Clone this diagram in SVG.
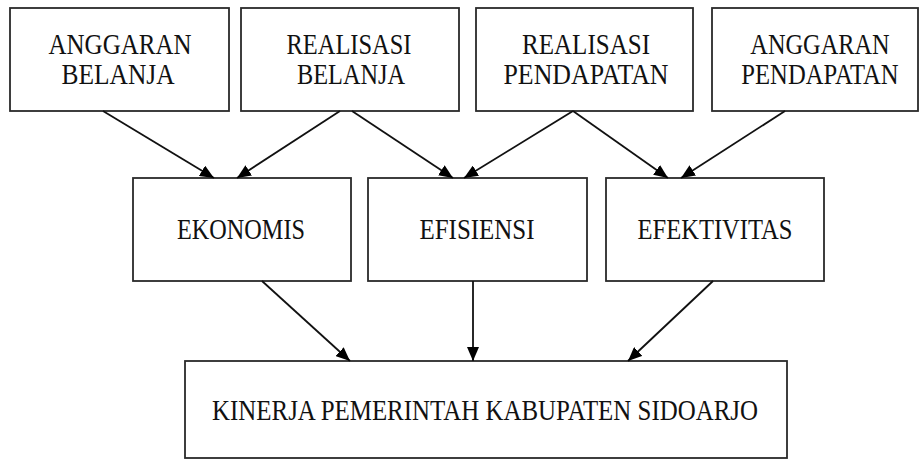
<svg xmlns="http://www.w3.org/2000/svg" width="920" height="459" viewBox="0 0 920 459">
<style>
.box{fill:#fff;stroke:#2a2a2a;stroke-width:1.8}
.t{font-family:"Liberation Serif","Times New Roman",serif;font-size:29px;fill:#111;text-anchor:middle}
.c{stroke:#111;stroke-width:1.8;fill:none}
</style>
<defs>
<marker id="ah" markerUnits="userSpaceOnUse" markerWidth="14" markerHeight="12" viewBox="0 0 14 12" refX="14" refY="6" orient="auto">
<path d="M0,0 L14,6 L0,12 Z" fill="#000"/>
</marker>
</defs>
<rect width="920" height="459" fill="#fff"/>
<g id="anggaran-belanja">
<rect class="box" x="10" y="8" width="219" height="103"/>
<text class="t" x="120" y="54" textLength="143" lengthAdjust="spacingAndGlyphs">ANGGARAN</text>
<text class="t" x="118" y="84" textLength="113" lengthAdjust="spacingAndGlyphs">BELANJA</text>
</g>
<g id="realisasi-belanja">
<rect class="box" x="241" y="8" width="218" height="103"/>
<text class="t" x="349" y="54" textLength="125" lengthAdjust="spacingAndGlyphs">REALISASI</text>
<text class="t" x="351" y="84" textLength="108" lengthAdjust="spacingAndGlyphs">BELANJA</text>
</g>
<g id="realisasi-pendapatan">
<rect class="box" x="476" y="8" width="217" height="103"/>
<text class="t" x="586" y="54" textLength="128" lengthAdjust="spacingAndGlyphs">REALISASI</text>
<text class="t" x="586" y="84" textLength="165" lengthAdjust="spacingAndGlyphs">PENDAPATAN</text>
</g>
<g id="anggaran-pendapatan">
<rect class="box" x="712" y="8" width="206" height="103"/>
<text class="t" transform="translate(820,54) scale(0.84,1)">ANGGARAN</text>
<text class="t" transform="translate(820,84) scale(0.85,1)">PENDAPATAN</text>
</g>
<g id="ekonomis">
<rect class="box" x="133" y="178" width="218" height="103"/>
<text class="t" x="241" y="239" textLength="128" lengthAdjust="spacingAndGlyphs">EKONOMIS</text>
</g>
<g id="efisiensi">
<rect class="box" x="368" y="178" width="219" height="103"/>
<text class="t" x="477" y="239" textLength="115" lengthAdjust="spacingAndGlyphs">EFISIENSI</text>
</g>
<g id="efektivitas">
<rect class="box" x="606" y="178" width="218" height="103"/>
<text class="t" x="715" y="239" textLength="155" lengthAdjust="spacingAndGlyphs">EFEKTIVITAS</text>
</g>
<g id="kinerja">
<rect class="box" x="185" y="361" width="602" height="97"/>
<text class="t" x="485" y="420" textLength="546" lengthAdjust="spacingAndGlyphs">KINERJA PEMERINTAH KABUPATEN SIDOARJO</text>
</g>
<g id="connectors">
<line class="c" x1="103" y1="111" x2="214" y2="178" marker-end="url(#ah)"/>
<line class="c" x1="340" y1="111" x2="237" y2="178" marker-end="url(#ah)"/>
<line class="c" x1="352" y1="111" x2="453" y2="178" marker-end="url(#ah)"/>
<line class="c" x1="573" y1="111" x2="464" y2="178" marker-end="url(#ah)"/>
<line class="c" x1="573" y1="111" x2="668" y2="178" marker-end="url(#ah)"/>
<line class="c" x1="785" y1="111" x2="681" y2="178" marker-end="url(#ah)"/>
<line class="c" x1="262" y1="281" x2="350" y2="361" marker-end="url(#ah)"/>
<line class="c" x1="473" y1="281" x2="473" y2="361" marker-end="url(#ah)"/>
<line class="c" x1="713" y1="281" x2="628" y2="361" marker-end="url(#ah)"/>
</g>
</svg>
